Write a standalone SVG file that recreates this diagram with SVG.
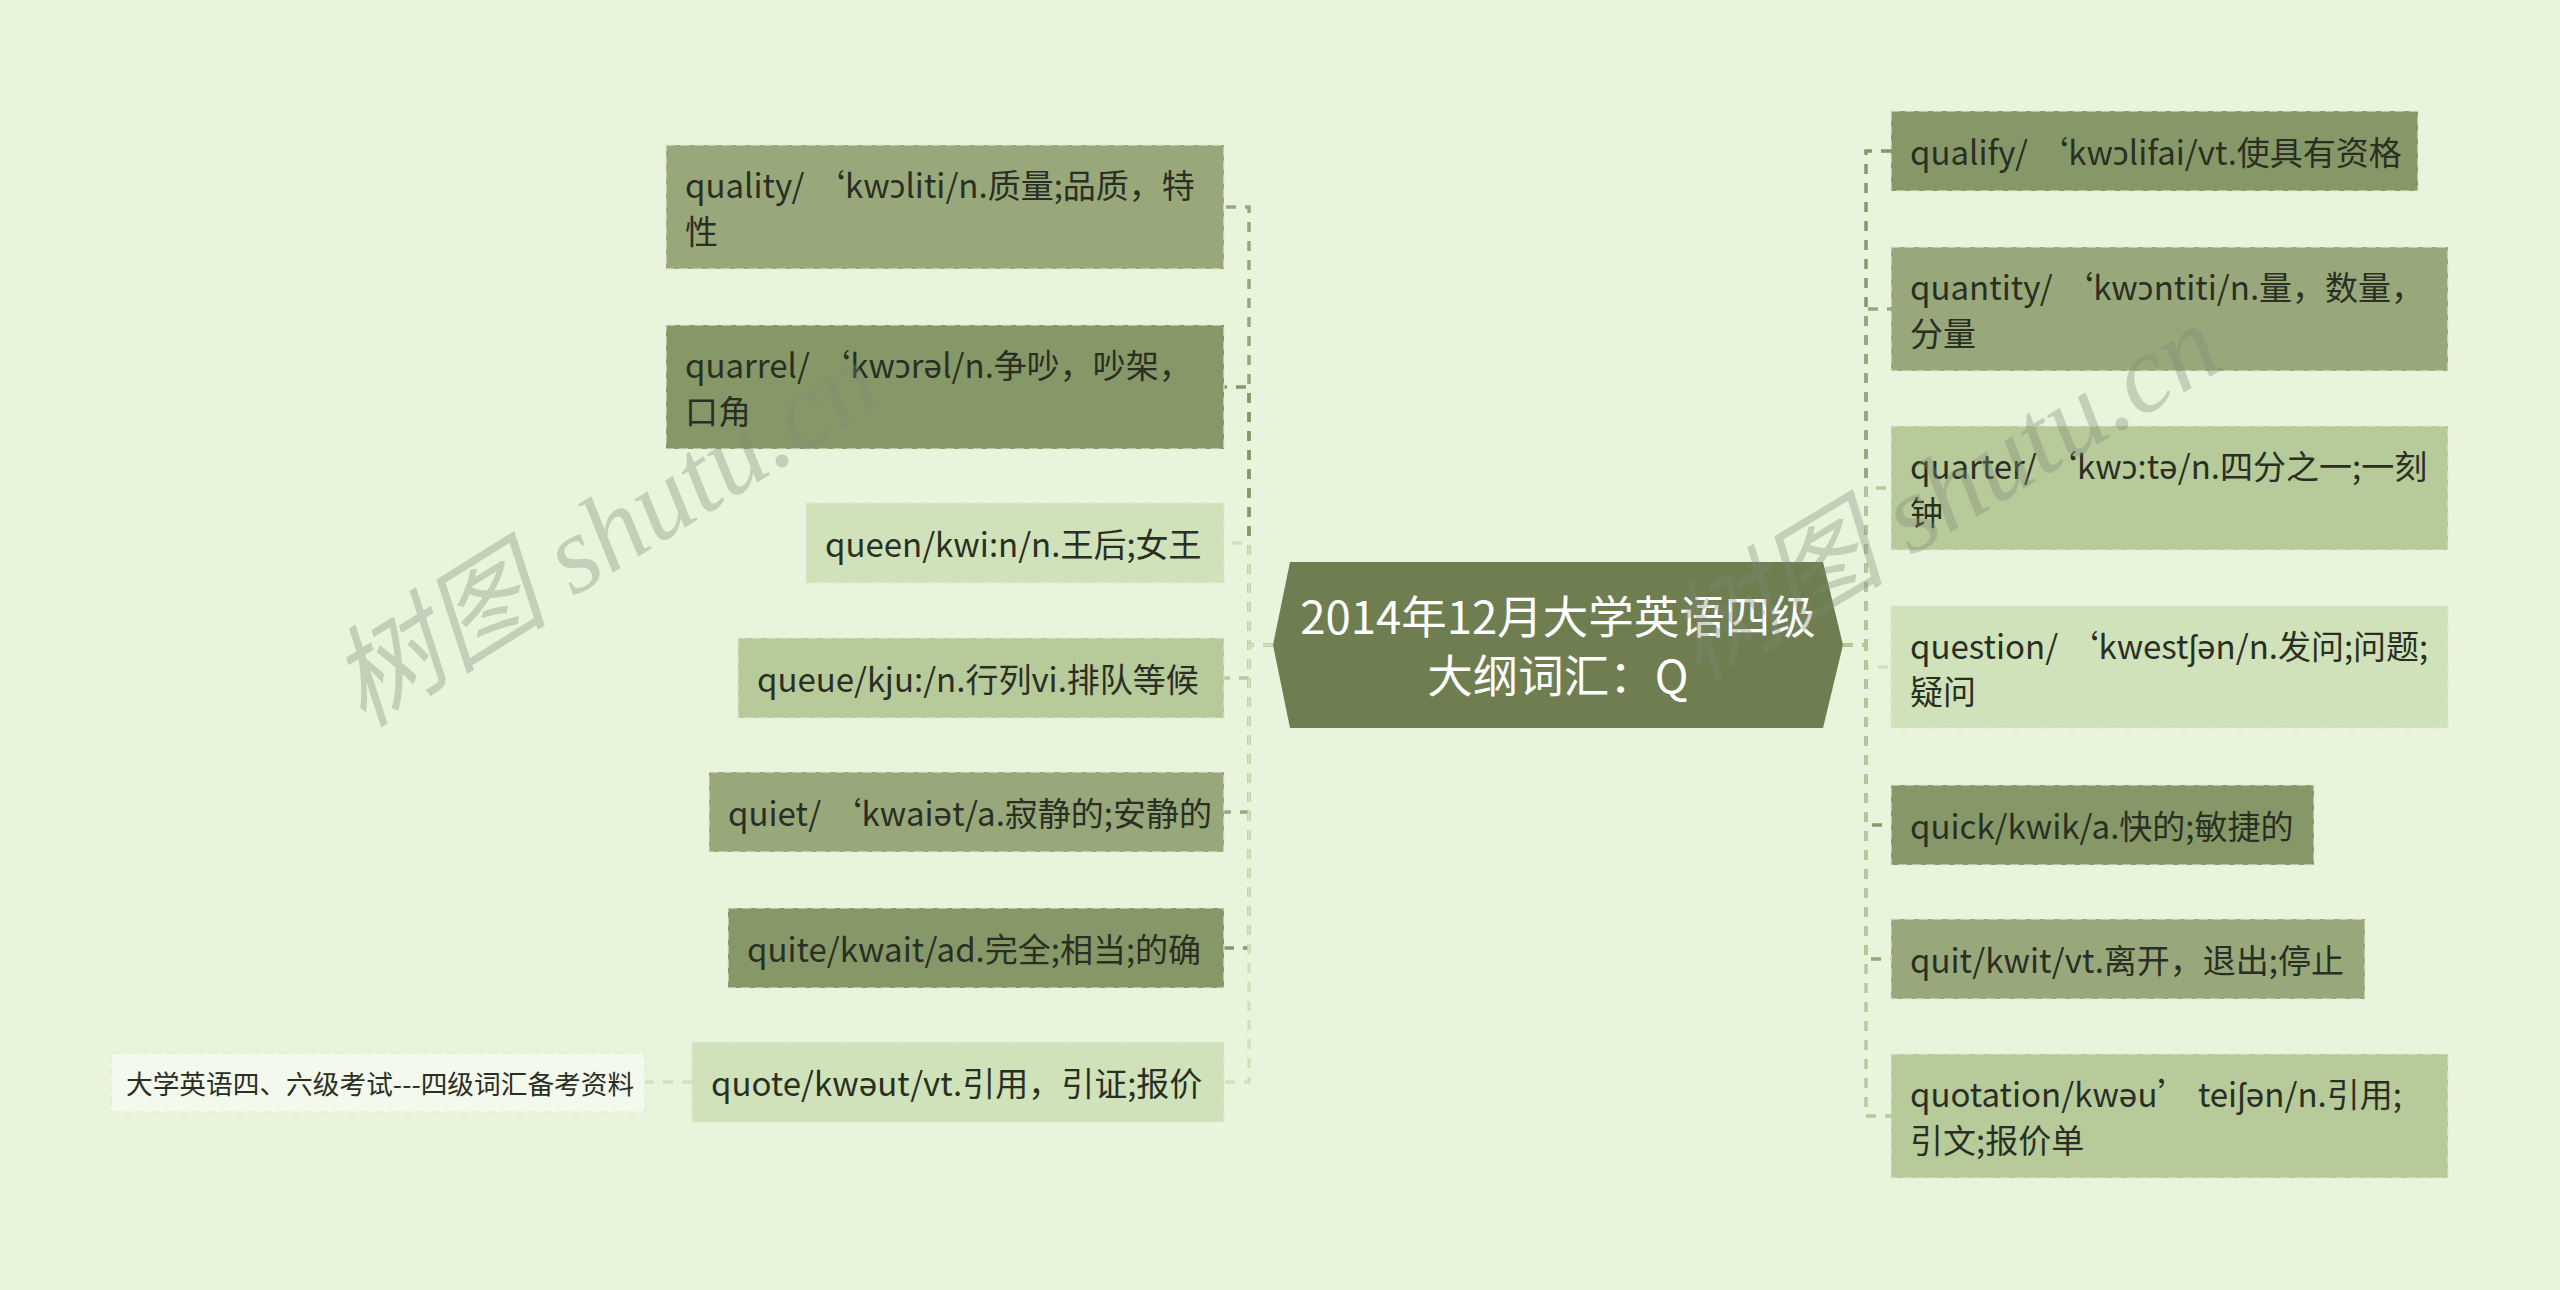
<svg xmlns="http://www.w3.org/2000/svg" width="2560" height="1290" viewBox="0 0 2560 1290">
<style>
.bg{fill:#e8f5dc}
.n rect{stroke:#dfe9cf;stroke-width:2;stroke-dasharray:9 5;stroke-opacity:0.6}
.t{font-family:"Noto Sans CJK SC","Noto Sans",sans-serif;font-size:33px;fill:#2a2f24;dominant-baseline:central}
.leaf{font-family:"Noto Sans CJK SC","Noto Sans",sans-serif;font-size:26.7px;fill:#2a2f24;dominant-baseline:central}
.title{font-family:"Noto Sans CJK SC","Noto Sans",sans-serif;font-size:45.5px;fill:#ffffff;dominant-baseline:central;text-anchor:middle}
.c path{fill:none;stroke-width:3.5;stroke-dasharray:10 9}
.d1{fill:#879868}.d2{fill:#98a87b}.d3{fill:#b7ca9a}.d4{fill:#cfe2b9}
.s1{stroke:#879868}.s2{stroke:#98a87b}.s3{stroke:#b7ca9a}.s4{stroke:#cfe2b9}
.wm{font-family:"Liberation Serif","Noto Sans CJK SC",serif;font-size:110px;font-style:italic;fill:#7f8a76;fill-opacity:0.35;text-anchor:middle}
</style>
<rect class="bg" x="0" y="0" width="2560" height="1290"/>
<g id="connectors" class="c">
<path class="s2" d="M1273 645 H1249 V207 H1224"/>
<path class="s1" d="M1273 645 H1249 V387 H1224"/>
<path class="s4" d="M1273 645 H1249 V543 H1224"/>
<path class="s3" d="M1273 645 H1249 V678 H1224"/>
<path class="s2" d="M1273 645 H1249 V812 H1224"/>
<path class="s1" d="M1273 645 H1249 V948 H1224"/>
<path class="s4" d="M1273 645 H1249 V1082 H1224"/>
<path class="s4" d="M692 1082 H645"/>
<path class="s1" d="M1843 645 H1866 V151 H1891"/>
<path class="s2" d="M1843 645 H1866 V309 H1891"/>
<path class="s3" d="M1843 645 H1866 V488 H1891"/>
<path class="s4" d="M1843 645 H1866 V667 H1891"/>
<path class="s1" d="M1843 645 H1866 V825 H1891"/>
<path class="s2" d="M1843 645 H1866 V959 H1891"/>
<path class="s3" d="M1843 645 H1866 V1116 H1891"/>
</g>
<g id="center">
<polygon points="1290,562 1823,562 1843,645 1823,728 1290,728 1273,645" fill="#6e7e51"/>
<text class="title" x="1558" y="614">2014年12月大学英语四级</text>
<text class="title" x="1558" y="673">大纲词汇：Q</text>
</g>
<g id="n-quality" class="n"><rect class="d2" x="666" y="145" width="558" height="124"/><text class="t" x="685" y="184">quality/ ‘kwɔliti/n.质量;品质，特</text><text class="t" x="685" y="230">性</text></g>
<g id="n-quarrel" class="n"><rect class="d1" x="666" y="325" width="558" height="124"/><text class="t" x="685" y="364">quarrel/ ‘kwɔrəl/n.争吵，吵架，</text><text class="t" x="685" y="410">口角</text></g>
<g id="n-queen" class="n"><rect class="d4" x="806" y="503" width="418" height="80"/><text class="t" x="825" y="543">queen/kwi:n/n.王后;女王</text></g>
<g id="n-queue" class="n"><rect class="d3" x="738" y="638" width="486" height="80"/><text class="t" x="757" y="678">queue/kju:/n.行列vi.排队等候</text></g>
<g id="n-quiet" class="n"><rect class="d2" x="709" y="772" width="515" height="80"/><text class="t" x="728" y="812">quiet/ ‘kwaiət/a.寂静的;安静的</text></g>
<g id="n-quite" class="n"><rect class="d1" x="728" y="908" width="496" height="80"/><text class="t" x="747" y="948">quite/kwait/ad.完全;相当;的确</text></g>
<g id="n-quote" class="n"><rect class="d4" x="692" y="1042" width="532" height="80"/><text class="t" x="711" y="1082">quote/kwəut/vt.引用，引证;报价</text></g>
<g id="n-leaf" class="n"><rect fill="#f4f9ee" x="111" y="1053" width="534" height="59"/><text class="leaf" x="126" y="1082">大学英语四、六级考试---四级词汇备考资料</text></g>
<g id="n-qualify" class="n"><rect class="d1" x="1891" y="111" width="527" height="80"/><text class="t" x="1910" y="151">qualify/ ‘kwɔlifai/vt.使具有资格</text></g>
<g id="n-quantity" class="n"><rect class="d2" x="1891" y="247" width="557" height="124"/><text class="t" x="1910" y="286">quantity/ ‘kwɔntiti/n.量，数量，</text><text class="t" x="1910" y="332">分量</text></g>
<g id="n-quarter" class="n"><rect class="d3" x="1891" y="426" width="557" height="124"/><text class="t" x="1910" y="465">quarter/ ‘kwɔ:tə/n.四分之一;一刻</text><text class="t" x="1910" y="511">钟</text></g>
<g id="n-question" class="n"><rect class="d4" x="1891" y="606" width="557" height="122"/><text class="t" x="1910" y="645">question/ ‘kwestʃən/n.发问;问题;</text><text class="t" x="1910" y="690">疑问</text></g>
<g id="n-quick" class="n"><rect class="d1" x="1891" y="785" width="423" height="80"/><text class="t" x="1910" y="825">quick/kwik/a.快的;敏捷的</text></g>
<g id="n-quit" class="n"><rect class="d2" x="1891" y="919" width="474" height="80"/><text class="t" x="1910" y="959">quit/kwit/vt.离开，退出;停止</text></g>
<g id="n-quotation" class="n"><rect class="d3" x="1891" y="1054" width="557" height="124"/><text class="t" x="1910" y="1093">quotation/kwəu’ teiʃən/n.引用;</text><text class="t" x="1910" y="1139">引文;报价单</text></g>
<g id="watermarks">
<text class="wm" transform="translate(625,565) rotate(-32)">树图 shutu.cn</text>
<text class="wm" transform="translate(1963,525) rotate(-31)">树图 shutu.cn</text>
</g>
</svg>
